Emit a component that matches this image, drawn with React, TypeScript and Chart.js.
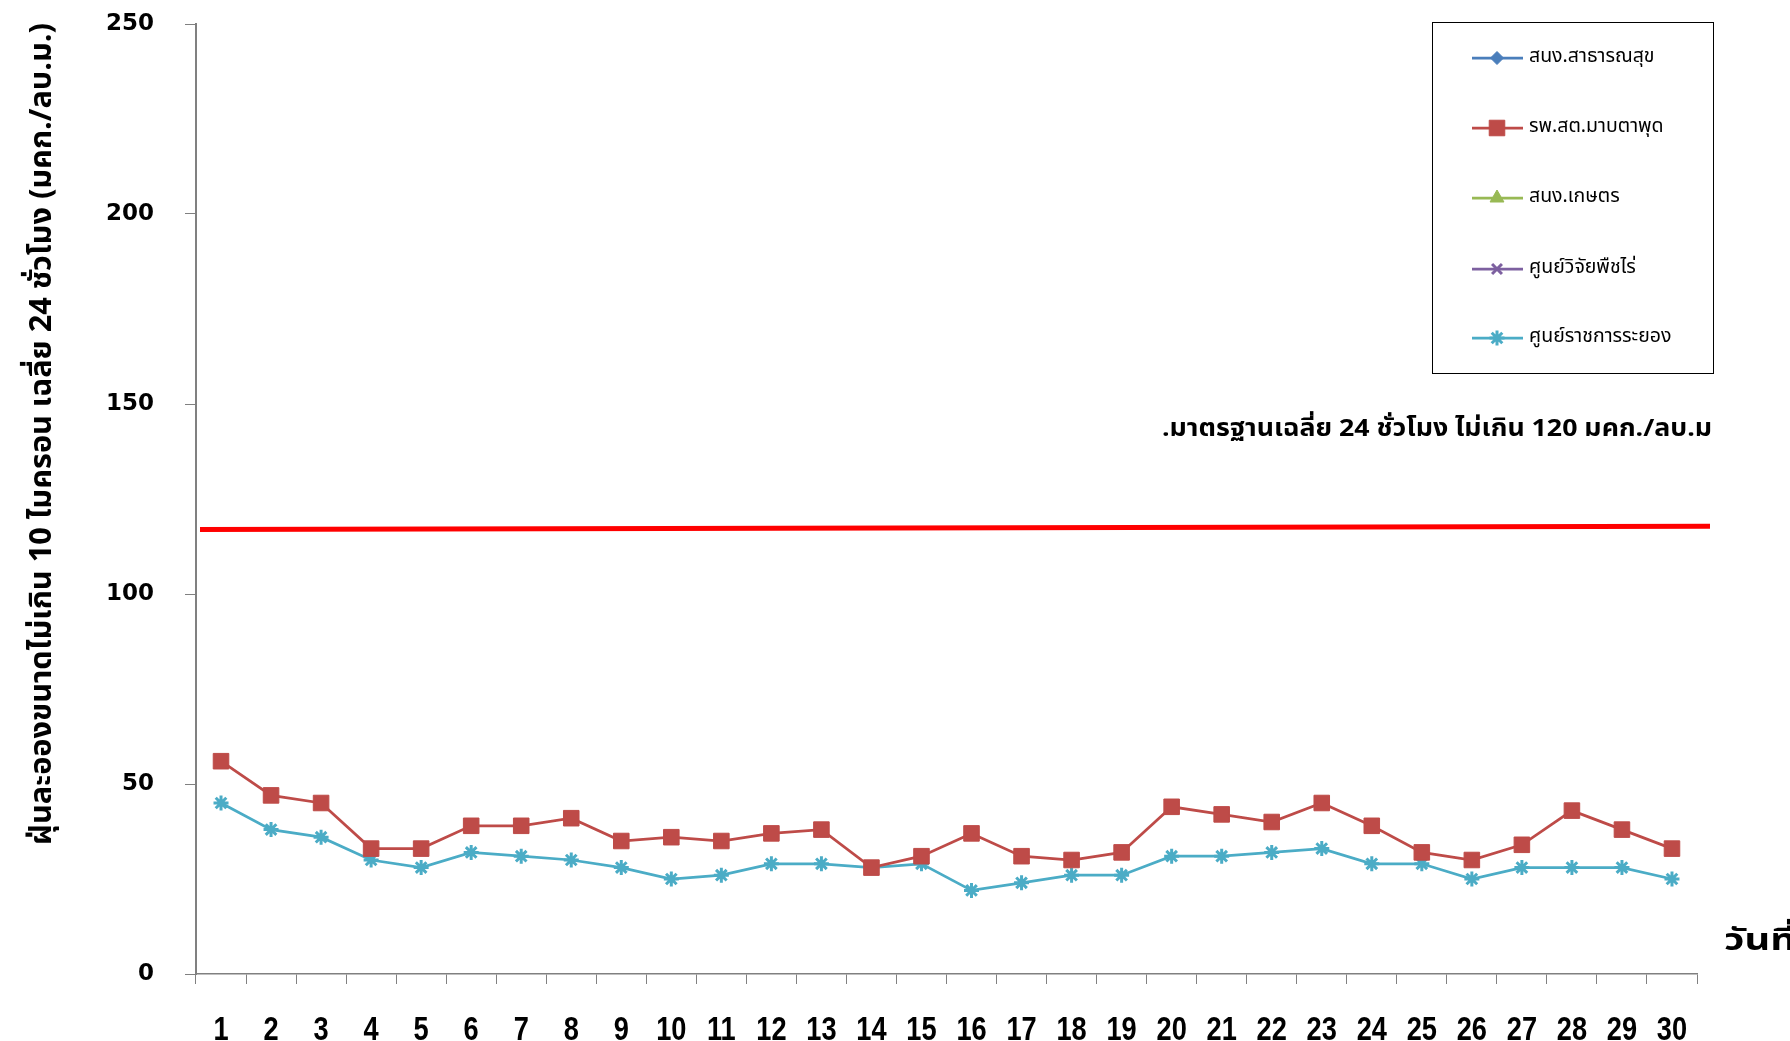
import React, { useEffect, useRef } from 'react';
import { Chart, registerables } from 'chart.js';
import { drawPoint } from 'chart.js/helpers';

Chart.register(...registerables);

const dayLabels = ['1','2','3','4','5','6','7','8','9','10','11','12','13','14','15','16','17','18','19','20','21','22','23','24','25','26','27','28','29','30'];
const seriesNames = ['สนง.สาธารณสุข', 'รพ.สต.มาบตาพุด', 'สนง.เกษตร', 'ศูนย์วิจัยพืชไร่', 'ศูนย์ราชการระยอง'];
const publicHealthOffice: (number | null)[] = [];
const mabTaPhut = [56, 47, 45, 33, 33, 39, 39, 41, 35, 36, 35, 37, 38, 28, 31, 37, 31, 30, 32, 44, 42, 40, 45, 39, 32, 30, 34, 43, 38, 33];
const agricultureOffice: (number | null)[] = [];
const fieldCropCenter: (number | null)[] = [];
const rayongGovCenter = [45, 38, 36, 30, 28, 32, 31, 30, 28, 25, 26, 29, 29, 28, 29, 22, 24, 26, 26, 31, 31, 32, 33, 29, 29, 25, 28, 28, 28, 25];
const yMin = 0;
const yMax = 250;
const yStep = 50;
const standardLine = [117, 117.8];
const yTitle = 'ฝุ่นละอองขนาดไม่เกิน 10 ไมครอน เฉลี่ย 24 ชั่วโมง (มคก./ลบ.ม.)';
const xTitle = 'วันที่';
const standardText = '.มาตรฐานเฉลี่ย 24 ชั่วโมง ไม่เกิน 120 มคก./ลบ.ม';

const colors = ['#4A7EBB', '#BE4B48', '#98B954', '#7D60A0', '#4BACC6'];
const styles = ['rectRot', 'rect', 'triangle', 'crossRot', 'star'];
const radii = [6.5, 11, 8, 7, 7.5];

const thaiFont = "'Noto Sans Thai', 'Noto Sans', 'DejaVu Sans', sans-serif";

function drawFitted(ctx: CanvasRenderingContext2D, text: string, x: number, y: number, targetW: number) {
  const w = ctx.measureText(text).width;
  const s = targetW / w;
  ctx.save();
  ctx.translate(x, y);
  ctx.scale(s, 1);
  ctx.textAlign = 'left';
  ctx.fillText(text, 0, 0);
  ctx.restore();
}

const decorPlugin = {
  id: 'decor',
  afterDraw(chart: any) {
    const ctx: CanvasRenderingContext2D = chart.ctx;
    const ys = chart.scales.y;
    const xs = chart.scales.x;
    const area = chart.chartArea;

    // x tick labels (narrow bold)
    ctx.save();
    ctx.fillStyle = '#000';
    ctx.font = "bold 34px 'Liberation Sans', Arial, sans-serif";
    ctx.textBaseline = 'alphabetic';
    ctx.textAlign = 'center';
    chart.data.labels.forEach((lab: string, i: number) => {
      const x = xs.getPixelForValue(i);
      ctx.save();
      ctx.translate(x, 1040);
      ctx.scale(0.8, 1);
      ctx.fillText(lab, 0, 0);
      ctx.restore();
    });
    ctx.restore();

    // standard line
    ctx.save();
    ctx.strokeStyle = '#FF0000';
    ctx.lineWidth = 5;
    ctx.beginPath();
    ctx.moveTo(area.left + 4, ys.getPixelForValue(standardLine[0]));
    ctx.lineTo(area.right + 13, ys.getPixelForValue(standardLine[1]));
    ctx.stroke();
    ctx.restore();

    // standard text
    ctx.save();
    ctx.fillStyle = '#000';
    ctx.font = `bold 24px ${thaiFont}`;
    ctx.textBaseline = 'alphabetic';
    drawFitted(ctx, standardText, 1162, 436, 550);
    ctx.restore();

    // y title
    ctx.save();
    ctx.fillStyle = '#000';
    ctx.font = `bold 30px ${thaiFont}`;
    ctx.textBaseline = 'alphabetic';
    ctx.translate(51, 845);
    ctx.rotate(-Math.PI / 2);
    drawFitted(ctx, yTitle, 0, 0, 822);
    ctx.restore();

    // x title
    ctx.save();
    ctx.fillStyle = '#000';
    ctx.font = `bold 30px ${thaiFont}`;
    ctx.textBaseline = 'alphabetic';
    drawFitted(ctx, xTitle, 1724, 950, 72);
    ctx.restore();

    // legend
    ctx.save();
    ctx.strokeStyle = '#000';
    ctx.lineWidth = 1;
    ctx.fillStyle = '#fff';
    ctx.fillRect(1432, 22, 281, 351);
    ctx.strokeRect(1432.5, 22.5, 281, 351);
    const rowYs = [58, 128, 198, 269, 338];
    chart.data.datasets.forEach((ds: any, i: number) => {
      const y = rowYs[i];
      ctx.strokeStyle = ds.borderColor;
      ctx.lineWidth = 2.75;
      ctx.beginPath();
      ctx.moveTo(1472, y);
      ctx.lineTo(1523, y);
      ctx.stroke();
      ctx.fillStyle = ds.borderColor;
      ctx.strokeStyle = ds.borderColor;
      ctx.lineWidth = ds.pointBorderWidth;
      drawPoint(ctx, { pointStyle: ds.pointStyle, radius: ds.pointRadius, rotation: 0, borderWidth: ds.pointBorderWidth } as any, 1497, y);
      ctx.fillStyle = '#000';
      ctx.font = `19.5px ${thaiFont}`;
      ctx.textBaseline = 'middle';
      ctx.textAlign = 'left';
      ctx.fillText(ds.label, 1529, y);
    });
    ctx.restore();
  },
};

export default function App() {
  const ref = useRef<HTMLCanvasElement | null>(null);
  useEffect(() => {
    document.body.style.margin = '0';
    const canvas = ref.current;
    if (!canvas) return;
    const allData = [publicHealthOffice, mabTaPhut, agricultureOffice, fieldCropCenter, rayongGovCenter];
    const chart = new Chart(canvas, {
      type: 'line',
      data: {
        labels: dayLabels,
        datasets: seriesNames.map((name, i) => ({
          label: name,
          data: allData[i] as any,
          borderColor: colors[i],
          backgroundColor: colors[i],
          pointBackgroundColor: colors[i],
          pointBorderColor: colors[i],
          pointStyle: styles[i] as any,
          pointRadius: radii[i],
          pointBorderWidth: i >= 3 ? 3 : 1,
          borderWidth: 2.75,
          tension: 0,
          fill: false,
        })),
      },
      options: {
        responsive: false,
        animation: false,
        layout: { padding: { left: 0, top: 24, right: 93, bottom: 0 } },
        plugins: {
          legend: { display: false },
          tooltip: { enabled: false },
        },
        scales: {
          x: {
            type: 'category',
            offset: true,
            afterFit: (s: any) => { s.height = 67; },
            grid: {
              offset: true,
              drawOnChartArea: false,
              tickLength: 10,
              color: '#808080',
              lineWidth: 1,
            },
            border: { display: true, color: '#808080', width: 1.5 },
            ticks: {
              display: false,
              autoSkip: false,
            },
          },
          y: {
            min: yMin,
            max: yMax,
            afterFit: (s: any) => { s.width = 196; s.paddingTop = 0; s.paddingBottom = 0; },
            grid: {
              drawOnChartArea: false,
              tickLength: 11,
              color: '#808080',
              lineWidth: 1,
            },
            border: { display: true, color: '#808080', width: 2 },
            ticks: {
              stepSize: yStep,
              color: '#000',
              padding: 31,
              font: { family: "'DejaVu Sans', sans-serif", weight: 'bold', size: 23 },
            },
          },
        },
      },
      plugins: [decorPlugin],
    });
    return () => chart.destroy();
  }, []);
  return (
    <div style={{ position: 'fixed', left: 0, top: 0, width: 1790, height: 1041, background: '#fff' }}>
      <canvas ref={ref} width={1790} height={1041} />
    </div>
  );
}
